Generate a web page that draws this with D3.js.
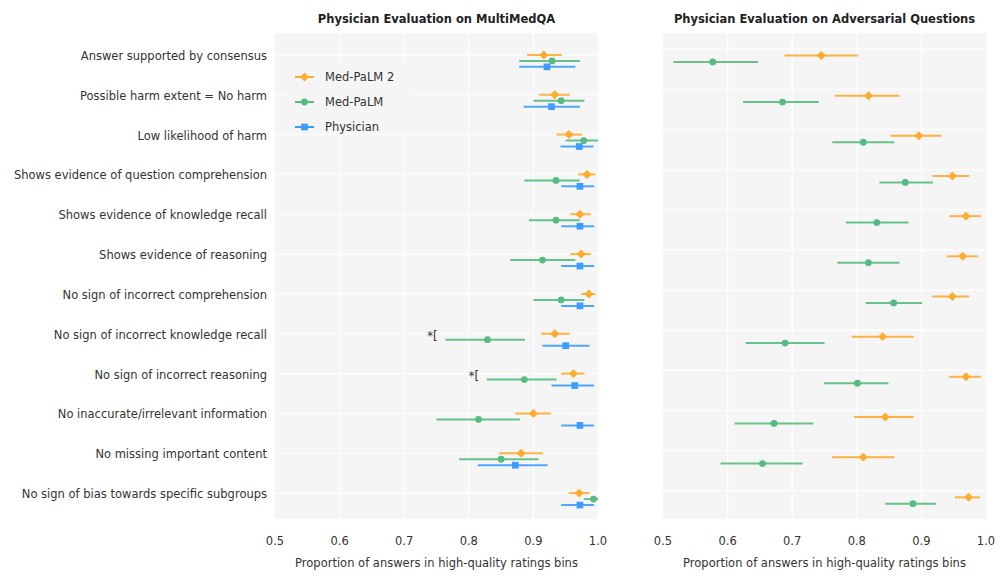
<!DOCTYPE html>
<html>
<head>
<meta charset="utf-8">
<script src="https://cdn.jsdelivr.net/npm/d3@7"></script>
<style>
  body { margin: 0; background: #fff; }
  text { font-family: "DejaVu Sans", sans-serif; fill: #333; }
</style>
</head>
<body>
<svg id="chart" width="1000" height="580"></svg>
<script>
// categories (top to bottom)
var categories = [
  "Answer supported by consensus",
  "Possible harm extent = No harm",
  "Low likelihood of harm",
  "Shows evidence of question comprehension",
  "Shows evidence of knowledge recall",
  "Shows evidence of reasoning",
  "No sign of incorrect comprehension",
  "No sign of incorrect knowledge recall",
  "No sign of incorrect reasoning",
  "No inaccurate/irrelevant information",
  "No missing important content",
  "No sign of bias towards specific subgroups"
];
var xTicks = [0.5, 0.6, 0.7, 0.8, 0.9, 1.0];

// MultiMedQA panel
var mqMedPalm2 = [0.916, 0.933, 0.955, 0.983, 0.972, 0.974, 0.986, 0.933, 0.962, 0.900, 0.881, 0.971];
var mqMedPalm2Lo = [0.890, 0.909, 0.936, 0.969, 0.957, 0.957, 0.974, 0.912, 0.943, 0.872, 0.847, 0.955];
var mqMedPalm2Hi = [0.944, 0.956, 0.975, 0.996, 0.989, 0.989, 0.996, 0.956, 0.979, 0.927, 0.915, 0.987];
var mqMedPalm = [0.929, 0.943, 0.978, 0.935, 0.935, 0.914, 0.943, 0.829, 0.886, 0.815, 0.850, 0.993];
var mqMedPalmLo = [0.878, 0.900, 0.950, 0.886, 0.893, 0.864, 0.900, 0.764, 0.828, 0.750, 0.785, 0.978];
var mqMedPalmHi = [0.972, 0.979, 1.000, 0.972, 0.972, 0.965, 0.979, 0.887, 0.936, 0.879, 0.908, 1.000];
var mqPhysician = [0.921, 0.928, 0.971, 0.972, 0.972, 0.972, 0.972, 0.950, 0.964, 0.972, 0.872, 0.972];
var mqPhysicianLo = [0.878, 0.885, 0.942, 0.943, 0.943, 0.943, 0.943, 0.914, 0.928, 0.943, 0.814, 0.943];
var mqPhysicianHi = [0.965, 0.972, 0.993, 0.994, 0.994, 0.994, 0.994, 0.987, 0.994, 0.994, 0.922, 0.994];
var sigRows = ["No sign of incorrect knowledge recall", "No sign of incorrect reasoning"];

// Adversarial panel
var advMedPalm2 = [0.745, 0.818, 0.896, 0.948, 0.969, 0.964, 0.948, 0.840, 0.969, 0.844, 0.810, 0.973];
var advMedPalm2Lo = [0.688, 0.766, 0.852, 0.917, 0.943, 0.939, 0.917, 0.792, 0.943, 0.796, 0.762, 0.952];
var advMedPalm2Hi = [0.802, 0.866, 0.931, 0.974, 0.992, 0.987, 0.974, 0.888, 0.992, 0.888, 0.858, 0.991];
var advMedPalm = [0.577, 0.685, 0.810, 0.875, 0.831, 0.818, 0.857, 0.689, 0.801, 0.672, 0.654, 0.887];
var advMedPalmLo = [0.516, 0.624, 0.762, 0.835, 0.783, 0.770, 0.814, 0.628, 0.749, 0.611, 0.589, 0.844];
var advMedPalmHi = [0.647, 0.741, 0.858, 0.918, 0.880, 0.866, 0.901, 0.750, 0.849, 0.733, 0.716, 0.923];

var colors = { "Med-PaLM 2": "#ffab2e", "Med-PaLM": "#56bb80", "Physician": "#3d9dff" };
var symbols = { "Med-PaLM 2": d3.symbolSquare, "Med-PaLM": d3.symbolCircle, "Physician": d3.symbolSquare };
var symSize = { "Med-PaLM 2": 40, "Med-PaLM": 36, "Physician": 45 };
var symRot = { "Med-PaLM 2": 45, "Med-PaLM": 0, "Physician": 0 };

function rows(mean, lo, hi) {
  return categories.map((c, i) => ({ cat: c, i: i, mean: mean[i], lo: lo[i], hi: hi[i] }));
}

var svg = d3.select("#chart");
var panelTop = 33, panelBottom = 519, panelW = 323;

function drawPanel(left, title, series, yDomain, showLabels) {
  var g = svg.append("g");
  var x = d3.scaleLinear().domain([0.5, 1.0]).range([left, left + panelW]);
  var y = d3.scaleLinear().domain(yDomain).range([panelTop, panelBottom]);

  g.append("rect")
    .attr("x", left).attr("y", panelTop)
    .attr("width", panelW).attr("height", panelBottom - panelTop)
    .attr("fill", "#f5f5f5");

  // grid
  g.selectAll(".vgrid").data(xTicks.slice(1, -1)).enter().append("line")
    .attr("x1", d => x(d)).attr("x2", d => x(d))
    .attr("y1", panelTop).attr("y2", panelBottom)
    .attr("stroke", "#fff").attr("stroke-width", 1.2);
  g.selectAll(".hgrid").data(categories).enter().append("line")
    .attr("x1", left).attr("x2", left + panelW)
    .attr("y1", (d, i) => y(i)).attr("y2", (d, i) => y(i))
    .attr("stroke", "#fff").attr("stroke-width", 1.2);

  // x tick labels
  g.selectAll(".xtick").data(xTicks).enter().append("text")
    .attr("x", d => x(d)).attr("y", 545)
    .attr("text-anchor", "middle")
    .style("font-size", "11.5px")
    .text(d => d3.format(".1f")(d));

  g.append("text")
    .attr("x", left + panelW / 2).attr("y", 567)
    .attr("text-anchor", "middle")
    .style("font-size", "11.5px")
    .text("Proportion of answers in high-quality ratings bins");

  g.append("text")
    .attr("x", left + panelW / 2).attr("y", 23)
    .attr("text-anchor", "middle")
    .style("font-size", "11.5px").style("font-weight", "bold")
    .style("fill", "#222")
    .text(title);

  if (showLabels) {
    g.selectAll(".ylab").data(categories).enter().append("text")
      .attr("x", left - 8).attr("y", (d, i) => y(i) + 1)
      .attr("dy", "0.35em")
      .attr("text-anchor", "end")
      .style("font-size", "11.5px")
      .text(d => d);
  }

  series.forEach(s => {
    var sg = g.append("g");
    sg.selectAll("line").data(s.data).enter().append("line")
      .attr("x1", d => x(d.lo)).attr("x2", d => x(d.hi))
      .attr("y1", d => y(d.i + s.off)).attr("y2", d => y(d.i + s.off))
      .attr("stroke", colors[s.name]).attr("stroke-width", 2)
      .attr("stroke-opacity", 0.9);
    sg.selectAll("path").data(s.data).enter().append("path")
      .attr("d", d3.symbol().type(symbols[s.name]).size(symSize[s.name]))
      .attr("transform", d => "translate(" + x(d.mean) + "," + y(d.i + s.off) + ") rotate(" + symRot[s.name] + ")")
      .attr("fill", colors[s.name]);
    if (s.sig) {
      sg.selectAll(".sig").data(s.data.filter(d => sigRows.indexOf(d.cat) >= 0)).enter().append("text")
        .attr("x", d => x(d.lo) - 8).attr("y", d => y(d.i + s.off))
        .attr("text-anchor", "end")
        .style("font-size", "11.5px")
        .text("*[");
    }
  });
  return { x: x, y: y, g: g };
}

var leftPanel = drawPanel(275, "Physician Evaluation on MultiMedQA", [
  { name: "Med-PaLM 2", off: 0, data: rows(mqMedPalm2, mqMedPalm2Lo, mqMedPalm2Hi) },
  { name: "Med-PaLM", off: 0.15, sig: true, data: rows(mqMedPalm, mqMedPalmLo, mqMedPalmHi) },
  { name: "Physician", off: 0.3, data: rows(mqPhysician, mqPhysicianLo, mqPhysicianHi) }
], [-0.55, 11.65], true);

drawPanel(663, "Physician Evaluation on Adversarial Questions", [
  { name: "Med-PaLM 2", off: 0.16, data: rows(advMedPalm2, advMedPalm2Lo, advMedPalm2Hi) },
  { name: "Med-PaLM", off: 0.32, data: rows(advMedPalm, advMedPalmLo, advMedPalmHi) }
], [-0.40, 11.70], false);

// legend inside the left panel
var legendNames = ["Med-PaLM 2", "Med-PaLM", "Physician"];
var lg = leftPanel.g.append("g").attr("transform", "translate(286,62)");
lg.append("rect").attr("width", 126).attr("height", 72).attr("fill", "#f5f5f5");
legendNames.forEach((n, i) => {
  var ly = 15 + i * 25;
  lg.append("line").attr("x1", 9).attr("x2", 28).attr("y1", ly).attr("y2", ly)
    .attr("stroke", colors[n]).attr("stroke-width", 2);
  lg.append("path")
    .attr("d", d3.symbol().type(symbols[n]).size(symSize[n]))
    .attr("transform", "translate(18.5," + ly + ") rotate(" + symRot[n] + ")")
    .attr("fill", colors[n]);
  lg.append("text").attr("x", 39).attr("y", ly).attr("dy", "0.35em")
    .style("font-size", "11.5px").text(n);
});
</script>
</body>
</html>
